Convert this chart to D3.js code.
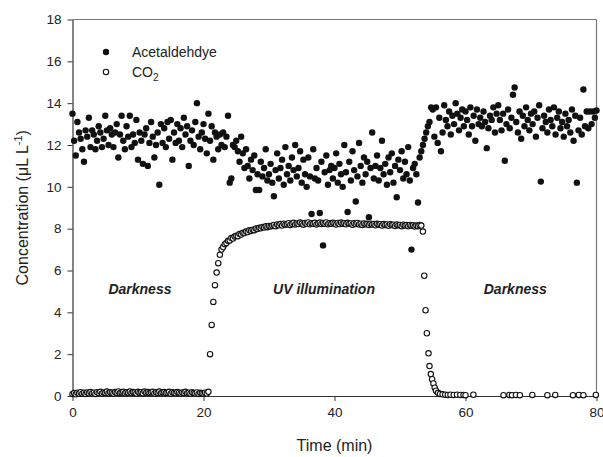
<!DOCTYPE html>
<html>
<head>
<meta charset="utf-8">
<script src="https://cdn.jsdelivr.net/npm/d3@7"></script>
<style>
  body { margin: 0; background: #fff; }
  text { font-family: "Liberation Sans", Arial, sans-serif; fill: #222; }
</style>
</head>
<body>
<script>
// acetaldehyde, sampled every 0.25 min from t = 0
var acetStep = 0.25;
var acetaldehyde = [
  13.5, 12.2, 11.5, 13.1, 12.6, 12.3, 11.8, 11.2, 12.7, 12.4, 13.3, 11.9, 12.7, 12.5, 11.8, 12.2, 12.9, 12.6, 11.9, 12.3,
  13.4, 12.7, 12.0, 12.8, 12.5, 11.9, 12.6, 13.0, 11.4, 12.5, 13.4, 12.2, 11.8, 12.9, 12.4, 13.4, 11.9, 12.5, 12.1, 13.2,
  11.3, 12.6, 12.2, 11.1, 12.5, 12.8, 11.0, 12.1, 13.1, 12.4, 11.4, 12.0, 12.6, 10.1, 13.0, 12.1, 12.8, 11.9, 13.1, 12.3,
  13.2, 11.3, 12.6, 12.1, 13.0, 12.2, 12.8, 11.9, 13.3, 12.5, 12.9, 11.0, 12.2, 12.7, 12.0, 13.1, 14.0, 12.4, 11.8, 12.6,
  13.0, 12.3, 11.6, 13.5, 12.2, 12.9, 11.3, 12.6, 12.4, 11.8, 12.5, 12.0, 12.6, 11.9, 12.4, 13.4, 10.2, 10.4, 12.0, 11.9,
  12.2, 11.7, 11.2, 12.4, 11.6, 10.9, 11.8, 11.0, 10.4, 11.3, 10.8, 11.5, 9.85, 10.6, 9.85, 11.2, 10.5, 10.9, 11.8, 10.3,
  10.6, 11.1, 10.2, 9.55, 10.8, 11.6, 10.4, 10.9, 11.3, 10.1, 11.9, 10.6, 11.0, 10.3, 11.4, 10.8, 12.0, 10.5, 10.9, 11.7,
  10.2, 11.3, 10.6, 10.0, 11.4, 10.5, 8.7, 11.8, 10.4, 10.9, 10.3, 8.75, 11.2, 7.2, 10.7, 11.5, 10.1, 10.8, 11.0, 10.4,
  10.9, 11.6, 10.2, 11.1, 10.6, 10.0, 12.0, 10.7, 8.8, 11.2, 10.3, 11.7, 10.8, 9.3, 10.5, 12.1, 11.0, 10.2, 11.4, 10.6,
  11.2, 8.55, 10.9, 12.6, 10.4, 11.0, 11.5, 10.3, 10.9, 12.2, 10.6, 11.1, 10.1, 11.4, 10.7, 11.6, 10.2, 11.0, 9.5, 11.3,
  10.8, 11.7, 10.4, 11.2, 10.6, 11.9, 10.3, 7.0, 10.9, 11.1, 10.6, 9.25, 11.4, 11.7, 12.0, 12.3, 12.6, 12.9, 13.1, 13.8,
  13.7, 12.4, 13.8, 12.1, 13.3, 11.7, 12.6, 13.9, 13.2, 12.9, 13.6, 12.5, 13.4, 13.0, 14.0, 13.5, 12.7, 13.3, 13.7, 12.9,
  13.6, 13.2, 12.5, 13.8, 12.9, 13.4, 12.2, 13.7, 13.0, 13.3, 12.9, 13.6, 13.1, 11.85, 12.8, 13.4, 13.2, 13.8, 12.6, 13.5,
  13.9, 13.2, 12.7, 13.5, 11.25, 13.0, 13.7, 12.8, 13.3, 14.4, 14.75, 13.1, 12.6, 13.6, 12.3, 13.4, 12.9, 13.8, 13.2, 12.7,
  13.5, 13.0, 13.6, 12.4, 13.3, 13.9, 10.25, 12.8, 13.4, 13.1, 12.6, 13.7, 13.2, 12.9, 13.8, 12.5, 13.3, 13.6, 12.8, 13.1,
  12.4, 13.5, 12.9, 13.2, 12.6, 13.7, 12.2, 13.4, 10.2, 12.7, 13.3, 12.5, 14.65, 12.9, 13.6, 12.8, 13.6, 13.0, 13.6, 13.3,
  13.65
];

// CO2, sampled every 0.25 min from t = 0 up to 53.25 min
var co2Step = 0.25;
var co2Dense = [
  0.10, 0.14, 0.08, 0.16, 0.12, 0.18, 0.11, 0.15, 0.09, 0.17,
  0.13, 0.19, 0.12, 0.16, 0.10, 0.18, 0.14, 0.20, 0.12, 0.17,
  0.15, 0.21, 0.13, 0.18, 0.16, 0.12, 0.19, 0.15, 0.22, 0.14,
  0.17, 0.20, 0.13, 0.18, 0.16, 0.21, 0.14, 0.19, 0.17, 0.12,
  0.20, 0.15, 0.18, 0.13, 0.21, 0.16, 0.19, 0.14, 0.17, 0.20,
  0.12, 0.18, 0.15, 0.21, 0.13, 0.17, 0.19, 0.14, 0.16, 0.20,
  0.11, 0.18, 0.15, 0.13, 0.19, 0.16, 0.12, 0.17, 0.14, 0.20,
  0.13, 0.16, 0.11, 0.18, 0.14, 0.12, 0.17, 0.10, 0.15, 0.13,
  0.11, 0.16, 0.12, 0.20,
  2.0, 3.4, 4.5, 5.3, 5.9, 6.35, 6.75, 7.0, 7.12, 7.26,
  7.31, 7.42, 7.44, 7.55, 7.53, 7.62, 7.66, 7.64, 7.74, 7.72,
  7.81, 7.79, 7.86, 7.84, 7.92, 7.89, 7.95, 7.93, 8.01, 7.98,
  8.04, 8.02, 8.08, 8.05, 8.11, 8.07, 8.13, 8.10,
  8.14, 8.18, 8.12, 8.20, 8.16, 8.22, 8.15, 8.24, 8.19, 8.21,
  8.26, 8.18, 8.23, 8.28, 8.20, 8.25, 8.22, 8.29, 8.24, 8.19,
  8.27, 8.23, 8.30, 8.21, 8.26, 8.24, 8.28, 8.20, 8.25, 8.29,
  8.22, 8.27, 8.24, 8.30, 8.21, 8.26, 8.23, 8.28, 8.25, 8.20,
  8.27, 8.22, 8.29, 8.24, 8.26, 8.21, 8.28, 8.23, 8.25, 8.19,
  8.26, 8.22, 8.27, 8.20, 8.24, 8.18, 8.25, 8.21, 8.23, 8.17,
  8.24, 8.20, 8.22, 8.16, 8.23, 8.19, 8.21, 8.15, 8.22, 8.18,
  8.20, 8.14, 8.21, 8.17, 8.19, 8.13, 8.20, 8.16, 8.18, 8.12,
  8.19, 8.15, 8.17, 8.11, 8.18, 8.14, 8.16, 8.10, 8.15, 8.12,
  8.17, 8.15
];

// CO2 after the lamp is switched off (irregular times)
var co2TailTime = [53.5, 53.7, 53.9, 54.1, 54.35, 54.5, 54.7, 54.9, 55.1, 55.3,
  55.5, 55.8, 56.1, 56.5, 56.9, 57.3, 57.7, 58.2, 58.7, 59.2,
  59.7, 60.0, 61.2, 65.8, 66.7, 67.1, 67.7, 68.3, 70.2, 72.5,
  73.7, 76.4, 77.3, 78.0, 79.9];
var co2TailValue = [7.86, 5.75, 4.1, 3.0, 2.04, 1.43, 1.05, 0.8, 0.6, 0.4,
  0.25, 0.15, 0.1, 0.08, 0.06, 0.05, 0.06, 0.05, 0.06, 0.05,
  0.05, 0.04, 0.06, 0.04, 0.05, 0.04, 0.05, 0.04, 0.05, 0.04,
  0.05, 0.04, 0.05, 0.04, 0.05];

var xTicks = [0, 20, 40, 60, 80];
var yTicks = [0, 2, 4, 6, 8, 10, 12, 14, 16, 18];
var periods = [
  { label: "Darkness", t: 10.3, c: 4.9 },
  { label: "UV illumination", t: 38.4, c: 4.9 },
  { label: "Darkness", t: 67.6, c: 4.9 }
];

var W = 603, H = 457;
var padL = 72.5, padT = 19.5, padR = 596.5, padB = 396;

var svg = d3.select("body").append("svg")
  .attr("width", W)
  .attr("height", H);

svg.append("rect").attr("width", W).attr("height", H).attr("fill", "#fff");

var x = d3.scaleLinear().domain([0, 80]).range([padL, padR]);
var y = d3.scaleLinear().domain([0, 18]).range([padB, padT]);

// frame
svg.append("line").attr("x1", padL).attr("x2", padR).attr("y1", padT).attr("y2", padT)
  .attr("stroke", "#777").attr("stroke-width", 1.2);
svg.append("line").attr("x1", padR).attr("x2", padR).attr("y1", padT).attr("y2", padB)
  .attr("stroke", "#777").attr("stroke-width", 1.2);

var xAxis = svg.append("g")
  .attr("transform", "translate(0," + padB + ")")
  .call(d3.axisBottom(x).tickValues(xTicks).tickSize(5).tickSizeOuter(0).tickPadding(6));
var yAxis = svg.append("g")
  .attr("transform", "translate(" + padL + ",0)")
  .call(d3.axisLeft(y).tickValues(yTicks).tickSize(5).tickSizeOuter(0).tickPadding(6));

[xAxis, yAxis].forEach(function(a) {
  a.select(".domain").attr("stroke", "#333").attr("stroke-width", 1.2);
  a.selectAll(".tick line").attr("stroke", "#333");
  a.selectAll(".tick text")
    .style("font-family", "'Liberation Sans', Arial, sans-serif")
    .style("font-size", "13.5px")
    .attr("fill", "#222");
});

// points
var co2Points = co2Dense.map(function(v, i) { return { t: i * co2Step, c: v }; })
  .concat(co2TailTime.map(function(t, i) { return { t: t, c: co2TailValue[i] }; }));
var acetPoints = acetaldehyde.map(function(v, i) { return { t: i * acetStep, c: v }; });

svg.append("g").selectAll("circle")
  .data(acetPoints)
  .enter().append("circle")
  .attr("cx", function(d) { return x(d.t); })
  .attr("cy", function(d) { return y(d.c); })
  .attr("r", 3.2)
  .attr("fill", "#111");

svg.append("g").selectAll("circle")
  .data(co2Points)
  .enter().append("circle")
  .attr("cx", function(d) { return x(d.t); })
  .attr("cy", function(d) { return y(d.c); })
  .attr("r", 2.7)
  .attr("fill", "#fff")
  .attr("stroke", "#111")
  .attr("stroke-width", 1.1);

// period labels
svg.append("g").selectAll("text")
  .data(periods)
  .enter().append("text")
  .attr("x", function(d) { return x(d.t); })
  .attr("y", function(d) { return y(d.c); })
  .attr("text-anchor", "middle")
  .style("font-size", "14px")
  .style("font-weight", "bold")
  .style("font-style", "italic")
  .text(function(d) { return d.label; });

// legend
svg.append("circle").attr("cx", 106).attr("cy", 52).attr("r", 3.2).attr("fill", "#111");
svg.append("circle").attr("cx", 106).attr("cy", 72).attr("r", 2.7)
  .attr("fill", "#fff").attr("stroke", "#111").attr("stroke-width", 1.1);
svg.append("text").attr("x", 132).attr("y", 57).style("font-size", "14px").text("Acetaldehdye");
var co2Label = svg.append("text").attr("x", 132).attr("y", 77).style("font-size", "14px");
co2Label.append("tspan").text("CO");
co2Label.append("tspan").attr("dy", 4).style("font-size", "10px").text("2");

// axis titles
svg.append("text")
  .attr("x", (padL + padR) / 2)
  .attr("y", 451)
  .attr("text-anchor", "middle")
  .style("font-size", "16px")
  .text("Time (min)");

var yTitle = svg.append("text")
  .attr("transform", "translate(28," + ((padT + padB) / 2) + ") rotate(-90)")
  .attr("text-anchor", "middle")
  .style("font-size", "16px");
yTitle.append("tspan").text("Concentration (\u03BCL L");
yTitle.append("tspan").attr("dy", -6).style("font-size", "11px").text("-1");
yTitle.append("tspan").attr("dy", 6).text(")");
</script>
</body>
</html>
